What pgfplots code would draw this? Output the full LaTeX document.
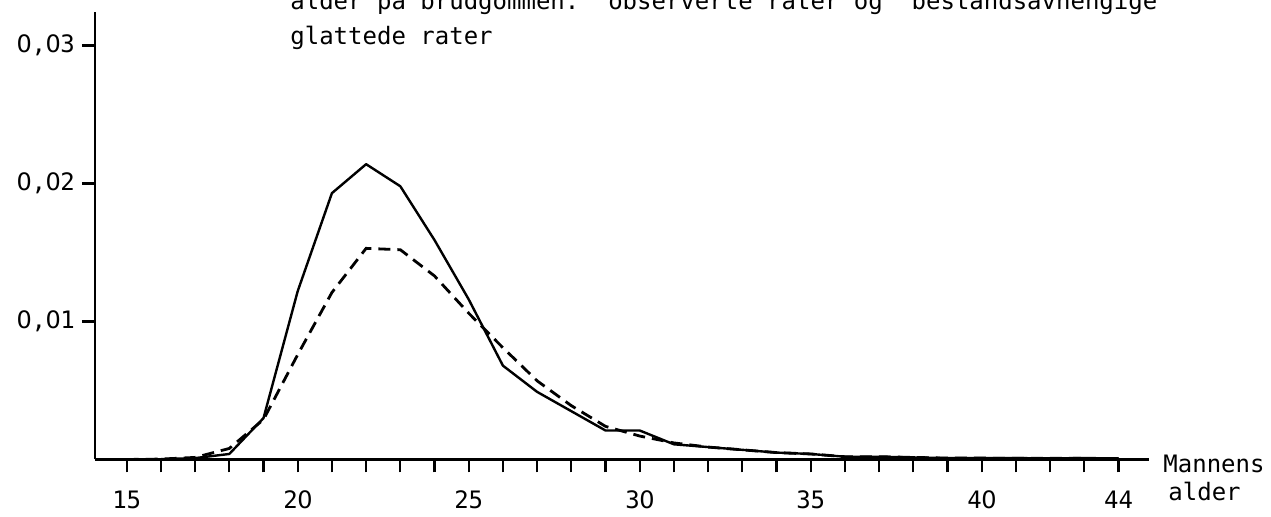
\documentclass[border=0pt]{standalone}
\usepackage{pgfplots}
\pgfplotsset{compat=1.18}
\usepackage{fontspec}
\newfontfamily\tw{DejaVu Sans Mono}
\newfontfamily\dvs{DejaVu Sans}
\newcommand{\twf}{\tw\fontsize{12pt}{14pt}\selectfont}
\newcommand{\Z}{\makebox[0.602em][c]{\dvs 0}}
\pgfplotstableread{
age obs smooth
15 0 0
16 0.00002 0.00003
17 0.0001 0.00015
18 0.0004 0.0008
19 0.0030 0.0029
20 0.0122 0.0076
21 0.0193 0.0121
22 0.0214 0.0153
23 0.0198 0.0152
24 0.0159 0.0133
25 0.0116 0.0106
26 0.0068 0.0081
27 0.0049 0.0057
28 0.0035 0.0039
29 0.0021 0.0024
30 0.0021 0.0017
31 0.0011 0.0012
32 0.0009 0.0009
33 0.0007 0.0007
34 0.0005 0.0005
35 0.0004 0.0004
36 0.0002 0.0002
37 0.0002 0.0002
38 0.00015 0.00015
39 0.0001 0.0001
40 0.0001 0.0001
41 0.0001 0.00008
42 0.00008 0.00008
43 0.0001 0.00008
44 0.00008 0.00005
}\rates
\begin{document}
\begin{tikzpicture}
\clip (0pt,0pt) rectangle (635.5pt,258.5pt);
\begin{axis}[
  at={(47.5pt,28.75pt)}, anchor=south west,
  scale only axis, width=527pt, height=223.75pt,
  xmin=14.073, xmax=44.89, ymin=0, ymax=0.03243,
  axis x line=bottom, axis y line=left,
  axis line style={-, line width=1.2pt, black},
  tick align=outside, major tick length=6.5pt,
  tick style={line width=1.1pt, black},
  xtick={15,...,44},
  xticklabels={15,,,,,2\Z,,,,,25,,,,,3\Z,,,,,35,,,,,4\Z,,,,44},
  ytick={0.01,0.02,0.03},
  yticklabels={{\Z,\Z1},{\Z,\Z2},{\Z,\Z3}},
  xticklabel style={font=\twf, yshift=-5.5pt},
  yticklabel style={font=\twf},
  scaled y ticks=false,
  clip=false,
]
\addplot[black, line width=1.2pt, line join=round] table[x=age, y=obs] {\rates};
\addplot[black, line width=1.4pt, dash pattern=on 6pt off 3.5pt] table[x=age, y=smooth] {\rates};
\end{axis}
\node[anchor=base west, font=\twf, inner sep=0pt] at (145pt,253.5pt) {alder på brudgommen.~~observerte rater og~~bestandsavhengige};
\node[anchor=base west, font=\twf, inner sep=0pt] at (145pt,236pt) {glattede rater};
\node[anchor=base west, font=\twf, inner sep=0pt] at (581.5pt,22pt) {Mannens};
\node[anchor=base west, font=\twf, inner sep=0pt] at (584pt,8pt) {alder};
\end{tikzpicture}
\end{document}
